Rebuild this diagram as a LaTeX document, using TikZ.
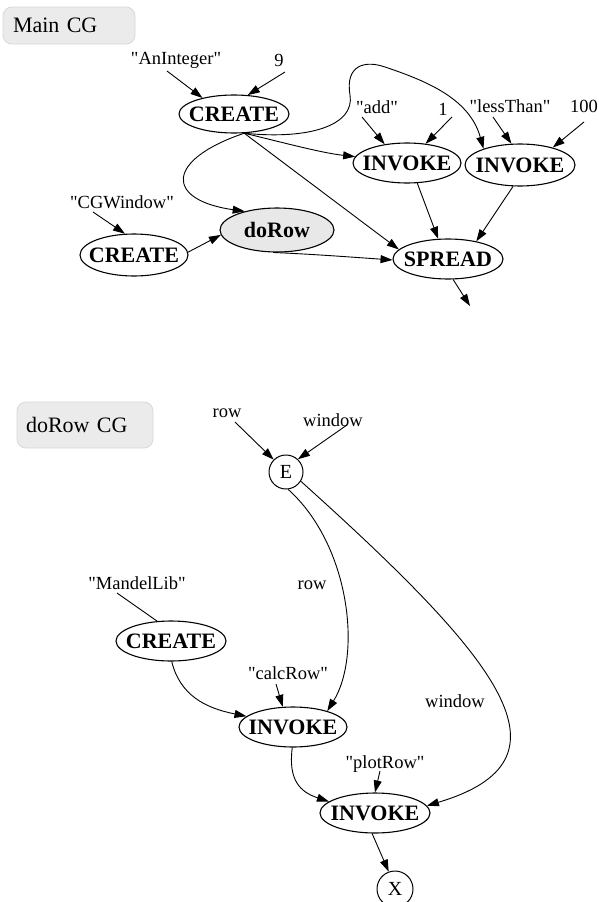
\documentclass[tikz,border=0pt]{standalone}
\usepackage{fontspec}
\setmainfont{Liberation Serif}
\usetikzlibrary{shapes.geometric,arrows.meta,calc}
\definecolor{boxfill}{HTML}{EBEBEB}
\definecolor{boxline}{HTML}{D8D8D8}
\definecolor{procfill}{HTML}{E8E8E8}
\newcommand{\qq}[1]{\textquotedbl#1\textquotedbl}
\begin{document}
\begin{tikzpicture}[x=1pt,y=-1pt,
  oplabel/.style={inner sep=0pt,font=\fontsize{22}{25}\selectfont\bfseries},
  op/.style={ellipse,draw,line width=1.1pt,inner sep=0pt,label={[oplabel]center:#1}},
  lab/.style={inner sep=0pt,text height=12.2pt,text depth=0pt,font=\fontsize{18.5}{21}\selectfont},
  term/.style={circle,draw,line width=1pt,inner sep=0pt,font=\fontsize{20}{24}\selectfont},
  cgbox/.style={draw=boxline,fill=boxfill,rounded corners=9pt,line width=0.8pt,
    align=left,inner ysep=0pt,text height=14.5pt,text depth=0pt,font=\fontsize{22}{26}\selectfont},
  arr/.style={-{Triangle[length=12pt,width=8pt]},line width=0.9pt},
  plain/.style={line width=0.9pt}]
\useasboundingbox (0,0) rectangle (599,902);

% ---------- Main CG ----------
\node[cgbox,text width=112pt,inner xsep=10pt,minimum height=37pt] (maincg) at (69,25.5) {Main CG};

\node[lab] (anint) at (176,58) {\qq{AnInteger}};
\node[lab] (nine) at (279,60) {9};
\node[lab] (add) at (377,107) {\qq{add}};
\node[lab] (one) at (443,109) {1};
\node[lab] (lt) at (510,106) {\qq{lessThan}};
\node[lab] (hundred) at (584,106) {100};
\node[lab] (cgw) at (122,202) {\qq{CGWindow}};

\node[op=CREATE,minimum width=110pt,minimum height=38pt] (c1) at (234,114) {};
\node[op=INVOKE,minimum width=108pt,minimum height=40pt] (i1) at (407,163) {};
\node[op=INVOKE,minimum width=110pt,minimum height=42pt] (i2) at (520,165) {};
\node[op=SPREAD,minimum width=110pt,minimum height=40pt] (sp) at (448,259) {};
\node[op=doRow,fill=procfill,minimum width=114pt,minimum height=44pt] (dr) at (277,230) {};
\node[op=CREATE,minimum width=108pt,minimum height=42pt] (c2) at (134,255) {};
\coordinate (spout) at (470,306);

\draw[arr] ($(anint)+(-9,13)$) -- (c1.153.4);
\draw[arr] ($(nine)+(6,12)$) -- (c1.54);
\draw[arr] ($(add)+(-15,10)$) -- (i1.140);
\draw[arr] ($(one)+(9,8)$) -- (i1.46.5);
\draw[arr] ($(lt)+(-17,11)$) -- (i2.112);
\draw[arr] ($(hundred)+(0,16)$) -- (i2.28.6);
\draw[arr] ($(cgw)+(-29,10)$) -- (c2.113);

\draw[arr] (c1.-62) .. controls (165,160) and (165,200) .. (dr.150.3);
\draw[arr] (c1.-62) .. controls (285,143) and (322,153) .. (i1.173.4);
\draw[arr] (c1.-62) -- (sp.169.8);
\draw[arr] (c1.-62) .. controls (310,140) and (355,125) .. (350,95)
  .. controls (345,65) and (365,60) .. (385,67)
  .. controls (430,82) and (470,100) .. (i2.156.8);
\draw[arr] (i1.-63.4) -- (sp.116.6);
\draw[arr] (i2.-108.4) -- (sp.32.2);
\draw[arr] (dr.-100) .. controls (310,254) and (350,257) .. (sp.-179);
\draw[arr] (c2.3.2) -- (dr.185.5);
\draw[arr] (sp.-76.6) -- (spout);

% ---------- doRow CG ----------
\node[cgbox,text width=118pt,inner xsep=9pt,minimum height=46pt] (dorowcg) at (85,425) {doRow CG};

\node[lab] (rowin) at (227,411) {row};
\node[lab] (winin) at (333,420) {window};
\node[term,minimum size=34pt] (e) at (286,472) {E};
\node[lab] (rowlab) at (312,583) {row};
\node[lab] (mlib) at (137,583) {\qq{MandelLib}};
\node[op=CREATE,minimum width=110pt,minimum height=40pt] (c3) at (171,641) {};
\node[lab] (calc) at (288,673) {\qq{calcRow}};
\node[lab] (winlab) at (455,701) {window};
\node[op=INVOKE,minimum width=108pt,minimum height=40pt] (i3) at (293,727) {};
\node[lab] (plot) at (385,762) {\qq{plotRow}};
\node[op=INVOKE,minimum width=110pt,minimum height=40pt] (i4) at (375,813) {};
\node[term,minimum size=36pt] (x) at (395,889) {X};

\draw[arr] ($(rowin)+(8,11)$) -- (e.135);
\draw[arr] ($(winin)+(14,5)$) -- (e.47);
\draw[arr] (e.-83) .. controls (350,545) and (362,655) .. (i3.25.1);
\draw[arr] (e.-32) .. controls (502,662) and (580,760) .. (i4.8.3);
\draw[plain] ($(mlib)+(-20,10)$) -- (c3.125);
\draw[arr] (c3.-88) .. controls (180,695) and (205,708) .. (i3.167.6);
\draw[arr] ($(calc)+(-12,11)$) -- (i3.117.8);
\draw[arr] (i3.-92) .. controls (288,780) and (300,792) .. (i4.166.3);
\draw[arr] ($(plot)+(-5,9)$) -- (i4.90);
\draw[arr] (i4.-98) -- (x.110);
\end{tikzpicture}
\end{document}
